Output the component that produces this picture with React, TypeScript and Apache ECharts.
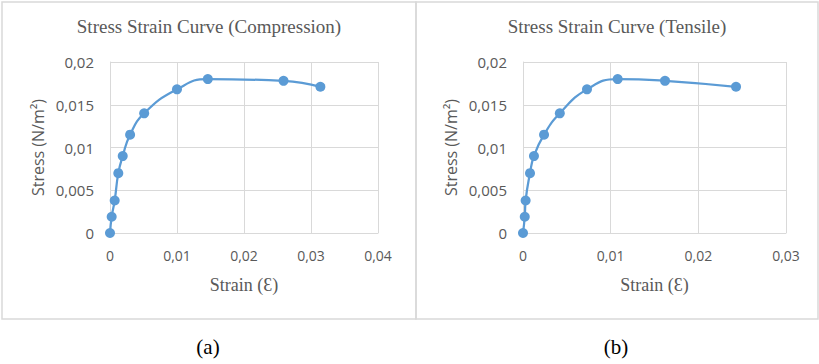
import React, { useEffect, useRef } from "react";
import * as echarts from "echarts";

const compStrain = [0, 0.00025, 0.0007, 0.00124, 0.0019, 0.003, 0.0051, 0.01, 0.0146, 0.0259, 0.0314];
const compStress = [0, 0.0019, 0.0038, 0.007, 0.009, 0.0115, 0.014, 0.0168, 0.018, 0.0178, 0.0171];
const tensStrain = [0, 0.0002, 0.0003, 0.0008, 0.00125, 0.0024, 0.0042, 0.0073, 0.0108, 0.0162, 0.0243];
const tensStress = [0, 0.0019, 0.0038, 0.007, 0.009, 0.0115, 0.014, 0.0168, 0.018, 0.0178, 0.0171];

const titles = ["Stress Strain Curve (Compression)", "Stress Strain Curve (Tensile)"];
const captions = ["(a)", "(b)"];
const xMax = [0.04, 0.03];

const BLUE = "#5B9BD5";
const GRID = "#D9D9D9";
const TXT = "#595959";
const SANS = "'Open Sans', 'Noto Sans', sans-serif";
const SERIF = "'Liberation Serif', 'DejaVu Serif', serif";

const fmt = (v: number) => Number(v.toFixed(4)).toString().replace(".", ",");

export default function App() {
  const ref = useRef<HTMLDivElement>(null);
  useEffect(() => {
    if (!ref.current) return;
    const chart = echarts.init(ref.current, null, { renderer: "svg" });
    const grids = [
      { left: 110, top: 62, width: 268, height: 171 },
      { left: 523, top: 62, width: 263, height: 171 },
    ];
    const panelCenters = [209, 617];
    const pairs = [
      compStrain.map((x, i) => [x, compStress[i]]),
      tensStrain.map((x, i) => [x, tensStress[i]]),
    ];
    const xAxes = grids.map((_, i) => ({
      type: "value",
      gridIndex: i,
      min: 0,
      max: xMax[i],
      interval: 0.01,
      name: "Strain (Ɛ)",
      nameLocation: "middle",
      nameGap: 43,
      nameTextStyle: { fontFamily: SERIF, fontSize: 18, color: TXT },
      axisLine: { show: true, lineStyle: { color: GRID, width: 1 } },
      axisTick: { show: false },
      axisLabel: { formatter: fmt, fontFamily: SANS, fontSize: 14, color: TXT, margin: 15 },
      splitLine: { show: true, lineStyle: { color: GRID, width: 1 } },
    }));
    const yAxes = grids.map((_, i) => ({
      type: "value",
      gridIndex: i,
      min: 0,
      max: 0.02,
      interval: 0.005,
      name: "Stress (N/m²)",
      nameLocation: "middle",
      nameGap: 64,
      nameTextStyle: { fontFamily: SANS, fontSize: 16, color: TXT },
      axisLine: { show: true, lineStyle: { color: GRID, width: 1 } },
      axisTick: { show: false },
      axisLabel: { formatter: fmt, fontFamily: SANS, fontSize: 15, color: TXT, margin: 16 },
      splitLine: { show: true, lineStyle: { color: GRID, width: 1 } },
    }));
    chart.setOption({
      animation: false,
      backgroundColor: "#ffffff",
      title: titles.map((t, i) => ({
        text: t,
        left: panelCenters[i],
        top: 17,
        textAlign: "center",
        padding: 0,
        textStyle: { fontFamily: SERIF, fontSize: 19, fontWeight: "normal", color: TXT },
      })),
      grid: grids,
      xAxis: xAxes,
      yAxis: yAxes,
      series: pairs.map((d, i) => ({
        type: "line",
        xAxisIndex: i,
        yAxisIndex: i,
        data: d,
        smooth: true,
        symbol: "circle",
        symbolSize: 10,
        lineStyle: { color: BLUE, width: 2.25 },
        itemStyle: { color: BLUE },
      })),
      graphic: [
        {
          type: "rect",
          shape: { x: 2, y: 2, width: 414, height: 317 },
          style: { fill: "none", stroke: GRID, lineWidth: 1.5 },
          silent: true,
        },
        {
          type: "rect",
          shape: { x: 416, y: 2, width: 402, height: 317 },
          style: { fill: "none", stroke: GRID, lineWidth: 1.5 },
          silent: true,
        },
        ...captions.map((c, i) => ({
          type: "text",
          x: panelCenters[i] - 1,
          y: 347,
          style: {
            text: c,
            fontFamily: SERIF,
            fontSize: 21,
            fill: "#000000",
            align: "center",
            verticalAlign: "middle",
          },
        })),
      ],
    });
    return () => chart.dispose();
  }, []);
  return (
    <div
      ref={ref}
      style={{ position: "absolute", left: 0, top: 0, width: 819, height: 364 }}
    />
  );
}
